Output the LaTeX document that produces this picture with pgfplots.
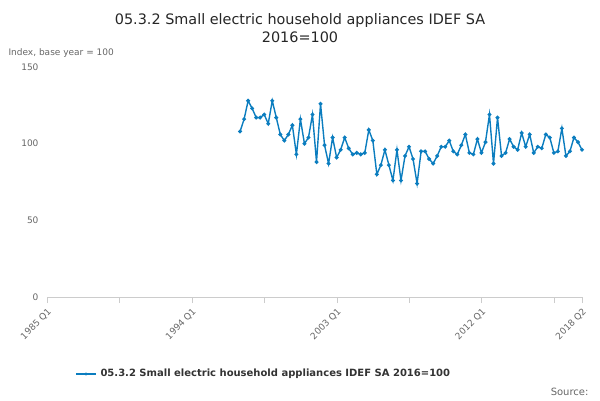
\documentclass[border=0pt]{standalone}
\usepackage{pgfplots}
\pgfplotsset{compat=1.18}
\usepackage{fontspec}
\setmainfont{DejaVu Sans}
\definecolor{ln}{HTML}{0B7DBF}
\begin{document}
\begin{tikzpicture}
\path[use as bounding box] (0pt,0pt) rectangle (600pt,400pt);
\begin{axis}[at={(47pt,103pt)},anchor=south west,scale only axis,width=535pt,height=230pt,
 xmin=0,xmax=133,ymin=0,ymax=150,
 axis x line*=bottom, axis y line=none,
 ytick={0,50,100,150}, ymajorgrids, grid style={gray!25},
 xtick={0,36,72,108,133}, xticklabels={1985 Q1,1994 Q1,2003 Q1,2012 Q1,2018 Q2},
 xticklabel style={font=\small,text=gray!80!black,rotate=45,anchor=north east},
 minor xtick={18,54,90,126},
 tick style={gray!40}, major tick length=6pt, minor tick length=6pt,
 x axis line style={gray!40},
 tick align=outside,
 /pgf/number format/assume math mode=true,
 clip=false]
\addplot[ln,line width=1.4pt,mark=*,mark size=1.2pt] table[x expr=\coordindex+48,y index=0]{
v
108
116
128
123
117
117
119
113
128
117
106
102
106
112
93
116
100
104
119
88
126
99
87
104
91
96
104
97
93
94
93
94
109
102
80
86
96
86
76
96
76
92
98
90
74
95
95
90
87
92
98
98
102
95
93
99
106
94
93
103
94
101
119
87
117
92
94
103
98
96
107
98
106
94
98
97
106
104
94
95
110
92
95
104
101
96
};
\end{axis}
\foreach \v/\yy in {0/103,50/179.7,100/256.3,150/333}{\node[anchor=east,font=\small,text=gray!80!black] at (42pt,\yy pt) {\v};}
\node[anchor=west,font=\small,text=gray!80!black] at (5pt,347pt) {Index, base year = 100};
\node[align=center,font=\Large,text=black!85] at (300pt,372pt) {05.3.2 Small electric household appliances IDEF SA\\2016=100};
\draw[ln,line width=1.4pt] (76pt,26pt)--(96pt,26pt); \fill[ln] (86pt,26pt) circle (1.6pt);
\node[anchor=west,font=\bfseries,text=black!80] at (97pt,26pt) {05.3.2 Small electric household appliances IDEF SA 2016=100};
\node[anchor=east,text=gray!80!black] at (592pt,8pt) {Source:};
\end{tikzpicture}
\end{document}
